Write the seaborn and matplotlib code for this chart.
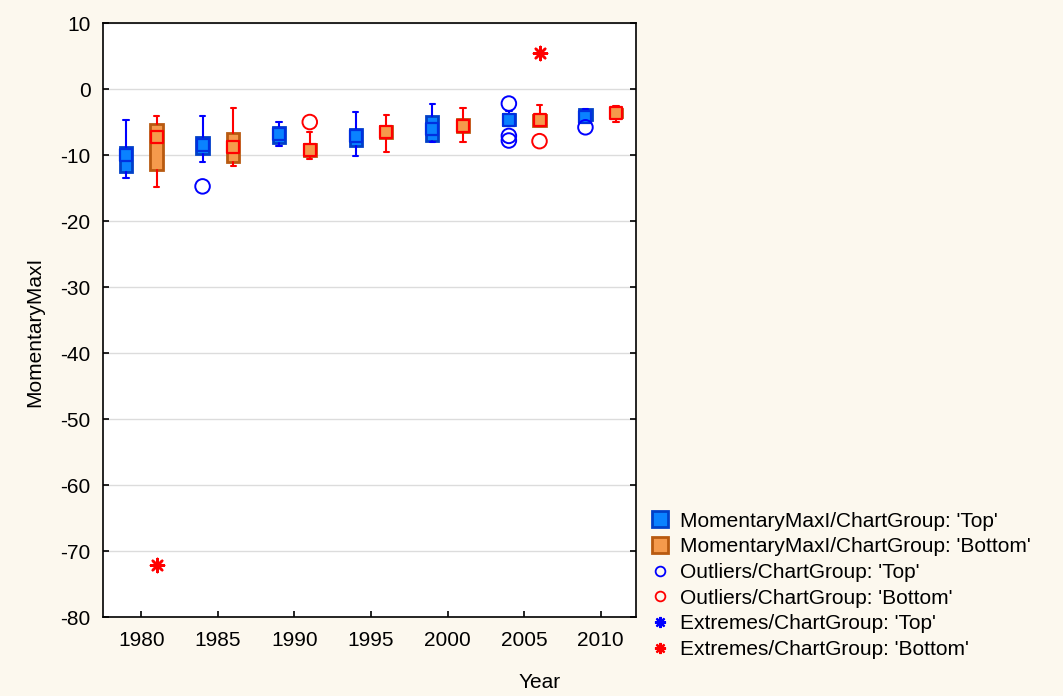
import numpy as np
import pandas as pd
import matplotlib
matplotlib.use("Agg")
import matplotlib.pyplot as plt
from matplotlib.lines import Line2D
import seaborn as sns

# ---------------- data ----------------
years_top = [1979, 1984, 1989, 1994, 1999, 2004, 2009]
top_whislo = [-13.5, -11.1, -8.7, -10.2, -8.0, -5.6, -4.75]
top_q1 = [-12.5, -9.8, -8.2, -8.6, -7.8, -5.5, -4.75]
top_med = [-10.0, -8.45, -6.8, -7.1, -6.0, -4.75, -4.2]
top_q3 = [-8.85, -7.3, -5.75, -6.0, -4.15, -3.8, -3.0]
top_whishi = [-4.65, -4.05, -5.0, -3.5, -2.2, -3.4, -3.0]

years_bottom = [1981, 1986, 1991, 1996, 2001, 2006, 2011]
bot_whislo = [-14.85, -11.6, -10.6, -9.6, -8.0, -5.6, -5.0]
bot_q1 = [-12.2, -11.05, -10.1, -7.4, -6.5, -5.55, -4.25]
bot_med = [-7.2, -8.75, -9.2, -6.5, -5.55, -4.75, -3.6]
bot_q3 = [-5.3, -6.67, -8.3, -5.55, -4.55, -4.0, -3.0]
bot_whishi = [-4.15, -2.9, -6.5, -3.9, -2.9, -2.4, -2.5]

outlier_top_x = [1984, 2004, 2004, 2004, 2009]
outlier_top_y = [-14.75, -2.2, -7.1, -7.8, -5.8]
outlier_bot_x = [1991, 2006]
outlier_bot_y = [-5.0, -7.9]
extreme_bot_x = [1981, 2006]
extreme_bot_y = [-72.1, 5.45]

x_ticks = [1980, 1985, 1990, 1995, 2000, 2005, 2010]
y_ticks = [10, 0, -10, -20, -30, -40, -50, -60, -70, -80]

labels = ["MomentaryMaxI/ChartGroup: 'Top'",
          "MomentaryMaxI/ChartGroup: 'Bottom'",
          "Outliers/ChartGroup: 'Top'",
          "Outliers/ChartGroup: 'Bottom'",
          "Extremes/ChartGroup: 'Top'",
          "Extremes/ChartGroup: 'Bottom'"]

# ---------------- style ----------------
sns.set_theme(style="white")
plt.rcParams['font.family'] = ['Liberation Sans', 'DejaVu Sans']
plt.rcParams['font.size'] = 15
plt.rcParams['text.color'] = 'black'
plt.rcParams['axes.labelcolor'] = 'black'
plt.rcParams['xtick.color'] = 'black'
plt.rcParams['ytick.color'] = 'black'

FS = 15
BG = '#FCF8EE'
BLUE_FILL = '#0A82FF'
BLUE_EDGE = '#0040C8'
BLUE_LINE = '#0000FF'
OR_FILL = '#F59A4C'
OR_EDGE = '#B85A10'
RED = '#FF0000'

fig = plt.figure(figsize=(10.63, 6.96), dpi=100, facecolor=BG)
ax = fig.add_axes([0.0969, 0.1135, 0.5014, 0.8534])
ax.set_facecolor('white')


def make_stats(xs, lo, q1, med, q3, hi):
    out = []
    for i in range(len(xs)):
        out.append(dict(whislo=lo[i], q1=q1[i], med=med[i], q3=q3[i],
                        whishi=hi[i], fliers=[]))
    return out


def draw(xs, stats, fill, edge, line):
    ax.bxp(stats, positions=xs, widths=0.8, patch_artist=True,
           showfliers=False, manage_ticks=False,
           boxprops=dict(facecolor=fill, edgecolor=edge, linewidth=2),
           whiskerprops=dict(color=line, linewidth=1.5),
           capprops=dict(color=line, linewidth=1.5),
           capwidths=0.35,
           medianprops=dict(linewidth=0))


draw(years_top, make_stats(years_top, top_whislo, top_q1, top_med, top_q3, top_whishi),
     BLUE_FILL, BLUE_EDGE, BLUE_LINE)
draw(years_bottom, make_stats(years_bottom, bot_whislo, bot_q1, bot_med, bot_q3, bot_whishi),
     OR_FILL, OR_EDGE, RED)

# median squares
med_df = pd.DataFrame({'Year': years_top + years_bottom,
                       'Value': top_med + bot_med,
                       'Group': ['Top'] * len(years_top) + ['Bottom'] * len(years_bottom)})
sns.scatterplot(data=med_df[med_df.Group == 'Top'], x='Year', y='Value', ax=ax,
                marker='s', s=72, color=BLUE_FILL, edgecolor='#0030E0',
                linewidth=1.6, legend=False, zorder=5)
sns.scatterplot(data=med_df[med_df.Group == 'Bottom'], x='Year', y='Value', ax=ax,
                marker='s', s=72, color=OR_FILL, edgecolor=RED,
                linewidth=1.6, legend=False, zorder=5)

# outliers
out_df = pd.DataFrame({'Year': outlier_top_x + outlier_bot_x,
                       'Value': outlier_top_y + outlier_bot_y,
                       'Group': ['Top'] * len(outlier_top_x) + ['Bottom'] * len(outlier_bot_x)})
sns.scatterplot(data=out_df, x='Year', y='Value', hue='Group',
                palette={'Top': BLUE_LINE, 'Bottom': RED}, ax=ax,
                marker='o', s=110, linewidth=1.4, legend=False, zorder=6)
coll = ax.collections[-1]
coll.set_edgecolors(coll.get_facecolors())
coll.set_facecolors('none')

# extremes
ext_df = pd.DataFrame({'Year': extreme_bot_x, 'Value': extreme_bot_y})
sns.scatterplot(data=ext_df, x='Year', y='Value', ax=ax, marker=(8, 2, 0),
                s=90, color=RED, edgecolor=RED, linewidth=1.8, legend=False, zorder=6)

# axes
ax.set_xlim(1977.5, 2012.3)
ax.set_ylim(-80, 10)
ax.set_xticks(x_ticks)
ax.set_yticks(y_ticks)
ax.set_xticklabels([str(t) for t in x_ticks])
ax.set_yticklabels([str(t) for t in y_ticks])
ax.yaxis.grid(True, color='#DCDCDC', linewidth=1)
ax.xaxis.grid(False)
ax.set_axisbelow(True)
for sp in ax.spines.values():
    sp.set_visible(True)
    sp.set_color('black')
    sp.set_linewidth(1.2)
ax.tick_params(axis='both', direction='in', length=4, width=1.2, colors='black',
               labelsize=FS, left=True, bottom=True, right=True, top=False)
ax.tick_params(axis='x', pad=10)
ax.tick_params(axis='y', pad=9)
ax.set_xlabel('Year', fontsize=FS, color='black')
ax.set_ylabel('MomentaryMaxI', fontsize=FS, color='black')
ax.xaxis.set_label_coords(0.82, -0.095)
ax.yaxis.set_label_coords(-0.11, 0.48)

# legend
handles = [
    Line2D([], [], linestyle='none', marker='s', markersize=11.5, markerfacecolor=BLUE_FILL,
           markeredgecolor=BLUE_EDGE, markeredgewidth=2),
    Line2D([], [], linestyle='none', marker='s', markersize=11.5, markerfacecolor=OR_FILL,
           markeredgecolor=OR_EDGE, markeredgewidth=2),
    Line2D([], [], linestyle='none', marker='o', markersize=7, markerfacecolor='none',
           markeredgecolor=BLUE_LINE, markeredgewidth=1.3),
    Line2D([], [], linestyle='none', marker='o', markersize=7, markerfacecolor='none',
           markeredgecolor=RED, markeredgewidth=1.3),
    Line2D([], [], linestyle='none', marker=(8, 2, 0), markersize=8,
           markeredgecolor=BLUE_LINE, color=BLUE_LINE, markeredgewidth=1.6),
    Line2D([], [], linestyle='none', marker=(8, 2, 0), markersize=8,
           markeredgecolor=RED, color=RED, markeredgewidth=1.6),
]
leg = fig.legend(handles, labels, loc='upper left', bbox_to_anchor=(0.605, 0.277),
                 frameon=False, fontsize=FS, handlelength=0.8, handletextpad=0.55,
                 labelspacing=0.32, borderaxespad=0)
for t in leg.get_texts():
    t.set_color('black')

fig.savefig('out.png', dpi=100, facecolor=BG)
